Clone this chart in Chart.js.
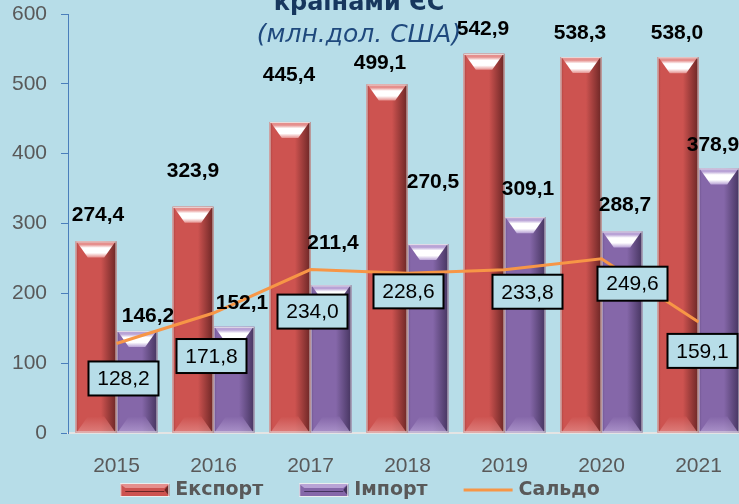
<!DOCTYPE html>
<html>
<head>
<meta charset="utf-8">
<script src="https://cdn.jsdelivr.net/npm/chart.js@4/dist/chart.umd.min.js"></script>
<style>
  html, body { margin: 0; padding: 0; background: #b7dde8; overflow: hidden; }
  #wrap { position: relative; width: 760px; height: 504px; }
</style>
</head>
<body>
<div id="wrap"><canvas id="trade-chart"></canvas></div>
<script>
// years for x axis
const years = ["2015", "2016", "2017", "2018", "2019", "2020", "2021"];

// series, mln USD
const exportData = [274.4, 323.9, 445.4, 499.1, 542.9, 538.3, 538.0];
const importData = [146.2, 152.1, 211.4, 270.5, 309.1, 288.7, 378.9];
const saldoData = [128.2, 171.8, 234.0, 228.6, 233.8, 249.6, 159.1];

// label nudges (px from the mark), placed by hand in the original
const exportShift = [[2, -26], [0, -36], [-1, -47], [-7, -21], [-1, -25], [-1, -24], [-1, -24]];
const importShift = [[11, -15], [8, -24], [2, -42], [5, -62], [3, -28], [3, -26], [-6, -23]];
const saldoShift = [[7, 35], [-2, 43], [2, 42], [1, 18], [23, 22], [31, 25], [4, 29]];

const BG = "#b7dde8";
const barLook = [
  { base: "#cd5350", edge: "#a84240", dark: "#6b2625", light: "#e58f8d" },
  { base: "#8567a9", edge: "#6c528c", dark: "#45345f", light: "#b9a3d6" }
];

function fmt(v) {
  return v.toFixed(1).replace(".", ",");
}

// draw a bevelled "3d" bar
function shadeBar(ctx, x0, x1, top, bottom, c) {
  const w = x1 - x0;
  const h = bottom - top;
  let g = ctx.createLinearGradient(x0, 0, x1, 0);
  g.addColorStop(0, c.edge);
  g.addColorStop(0.08, c.base);
  g.addColorStop(0.62, c.base);
  g.addColorStop(1, c.dark);
  ctx.fillStyle = g;
  ctx.fillRect(x0, top, w, h);

  const d = Math.min(16, h / 3);
  const inset = w * 0.3;
  // top bevel
  ctx.beginPath();
  ctx.moveTo(x0 + 1, top);
  ctx.lineTo(x1 - 1, top);
  ctx.lineTo(x1 - inset, top + d);
  ctx.lineTo(x0 + inset, top + d);
  ctx.closePath();
  g = ctx.createLinearGradient(0, top, 0, top + d);
  g.addColorStop(0, c.light);
  g.addColorStop(0.2, c.light);
  g.addColorStop(0.4, "#ffffff");
  g.addColorStop(0.72, "#ffffff");
  g.addColorStop(1, c.light);
  ctx.fillStyle = g;
  ctx.fill();
  // bottom bevel
  ctx.beginPath();
  ctx.moveTo(x0 + 1, bottom);
  ctx.lineTo(x1 - 1, bottom);
  ctx.lineTo(x1 - inset, bottom - d);
  ctx.lineTo(x0 + inset, bottom - d);
  ctx.closePath();
  g = ctx.createLinearGradient(0, bottom - d, 0, bottom);
  g.addColorStop(0, c.base);
  g.addColorStop(1, c.light);
  ctx.globalAlpha = 0.7;
  ctx.fillStyle = g;
  ctx.fill();
  ctx.globalAlpha = 1;
  // thin light border
  ctx.strokeStyle = "rgba(235,235,235,0.85)";
  ctx.lineWidth = 1;
  ctx.strokeRect(x0 + 0.5, top + 0.5, w - 1, h - 1);
}

const barShading = {
  id: "barShading",
  afterDatasetDraw(chart, args) {
    if (args.meta.type !== "bar") return;
    const look = barLook[args.index];
    const ctx = chart.ctx;
    ctx.save();
    args.meta.data.forEach(el => {
      const p = el.getProps(["x", "y", "base", "width"], true);
      shadeBar(ctx, p.x - p.width / 2, p.x + p.width / 2, p.y, p.base, look);
    });
    ctx.restore();
  }
};

const valueLabels = {
  id: "valueLabels",
  afterDatasetsDraw(chart) {
    const ctx = chart.ctx;
    ctx.save();
    ctx.textAlign = "center";
    ctx.textBaseline = "middle";

    // bar labels, bold
    ctx.font = "bold 21px 'Liberation Sans'";
    ctx.fillStyle = "#000";
    [[0, exportShift], [1, importShift]].forEach(([i, shift]) => {
      const meta = chart.getDatasetMeta(i);
      const vals = chart.data.datasets[i].data;
      meta.data.forEach((el, k) => {
        const p = el.getProps(["x", "y"], true);
        ctx.fillText(fmt(vals[k]), p.x + shift[k][0], p.y + shift[k][1]);
      });
    });

    // balance labels in boxes
    ctx.font = "21px 'Liberation Sans'";
    const meta = chart.getDatasetMeta(2);
    meta.data.forEach((el, k) => {
      const cx = el.x + saldoShift[k][0];
      const cy = el.y + saldoShift[k][1];
      ctx.fillStyle = BG;
      ctx.fillRect(cx - 35, cy - 17, 70, 34);
      ctx.strokeStyle = "#000";
      ctx.lineWidth = 2;
      ctx.strokeRect(cx - 35, cy - 17, 70, 34);
      ctx.fillStyle = "#000";
      ctx.fillText(fmt(saldoData[k]), cx, cy + 1);
    });
    ctx.restore();
  }
};

// title (cut at top) and legend drawn by hand
const extras = {
  id: "extras",
  afterDraw(chart) {
    const ctx = chart.ctx;
    ctx.save();
    ctx.textAlign = "center";
    ctx.textBaseline = "alphabetic";
    ctx.fillStyle = "#17375e";
    ctx.font = "bold 24px 'DejaVu Sans'";
    ctx.fillText("країнами ЄС", 359, 10);
    ctx.fillStyle = "#1f497d";
    ctx.font = "italic 25px 'DejaVu Sans'";
    ctx.fillText("(млн.дол. США)", 359, 42);

    // legend
    ctx.font = "bold 19px 'DejaVu Sans'";
    ctx.textAlign = "left";
    ctx.textBaseline = "middle";
    const ds = chart.data.datasets;
    const cy = 490;
    const boxW = 49, gap = 6, between = 36;
    const widths = ds.map(d => boxW + gap + ctx.measureText(d.label).width);
    const total = widths.reduce((a, b) => a + b, 0) + between * (ds.length - 1);
    let x = 360 - total / 2;
    ds.forEach((d, i) => {
      if (d.type === "line") {
        ctx.strokeStyle = d.borderColor;
        ctx.lineWidth = 3;
        ctx.beginPath();
        ctx.moveTo(x, cy);
        ctx.lineTo(x + boxW, cy);
        ctx.stroke();
      } else {
        const c = barLook[i];
        ctx.fillStyle = c.base;
        ctx.fillRect(x, cy - 6, boxW, 12);
        ctx.fillStyle = c.light;
        ctx.beginPath();
        ctx.moveTo(x, cy - 6); ctx.lineTo(x + boxW, cy - 6);
        ctx.lineTo(x + boxW - 5, cy - 2); ctx.lineTo(x + 5, cy - 2);
        ctx.closePath(); ctx.fill();
        ctx.fillStyle = c.dark;
        ctx.beginPath();
        ctx.moveTo(x + boxW, cy - 6); ctx.lineTo(x + boxW, cy + 6);
        ctx.lineTo(x + boxW - 5, cy); ctx.closePath(); ctx.fill();
        ctx.fillRect(x + 5, cy + 1, boxW - 10, 1);
        ctx.strokeStyle = "rgba(240,240,240,0.9)";
        ctx.lineWidth = 1;
        ctx.strokeRect(x + 0.5, cy - 6.5, boxW - 1, 13);
      }
      ctx.fillStyle = "#595959";
      ctx.fillText(d.label, x + boxW + gap, cy);
      x += widths[i] + between;
    });
    ctx.restore();
  }
};

new Chart(document.getElementById("trade-chart"), {
  type: "bar",
  data: {
    labels: years,
    datasets: [
      {
        label: "Експорт",
        data: exportData,
        backgroundColor: barLook[0].base,
        order: 1,
        categoryPercentage: 0.845,
        barPercentage: 1
      },
      {
        label: "Імпорт",
        data: importData,
        backgroundColor: barLook[1].base,
        order: 1,
        categoryPercentage: 0.845,
        barPercentage: 1
      },
      {
        type: "line",
        label: "Сальдо",
        data: saldoData,
        borderColor: "#f79646",
        borderWidth: 3,
        pointRadius: 0,
        tension: 0,
        fill: false,
        order: 0
      }
    ]
  },
  options: {
    responsive: true,
    maintainAspectRatio: false,
    animation: false,
    layout: { padding: { top: 14, right: 13, bottom: 27, left: 0 } },
    plugins: {
      legend: { display: false },
      tooltip: { enabled: false }
    },
    scales: {
      x: {
        afterFit(scale) { scale.height = 44; },
        grid: { display: false, drawTicks: false },
        border: { display: true, color: "#e4e4e4", width: 2 },
        ticks: {
          padding: 21,
          color: "#595959",
          font: { family: "'Liberation Sans'", size: 21 }
        }
      },
      y: {
        min: 0,
        max: 600,
        afterFit(scale) {
          scale.width = 68;
          scale.paddingTop = 0;
          scale.paddingBottom = 0;
        },
        grid: { drawOnChartArea: false, color: "#4a7ebb", tickLength: 7 },
        border: { color: "#4a7ebb", width: 1 },
        ticks: {
          stepSize: 100,
          padding: 14,
          color: "#595959",
          font: { family: "'Liberation Sans'", size: 21 }
        }
      }
    }
  },
  plugins: [barShading, valueLabels, extras]
});
</script>
</body>
</html>
